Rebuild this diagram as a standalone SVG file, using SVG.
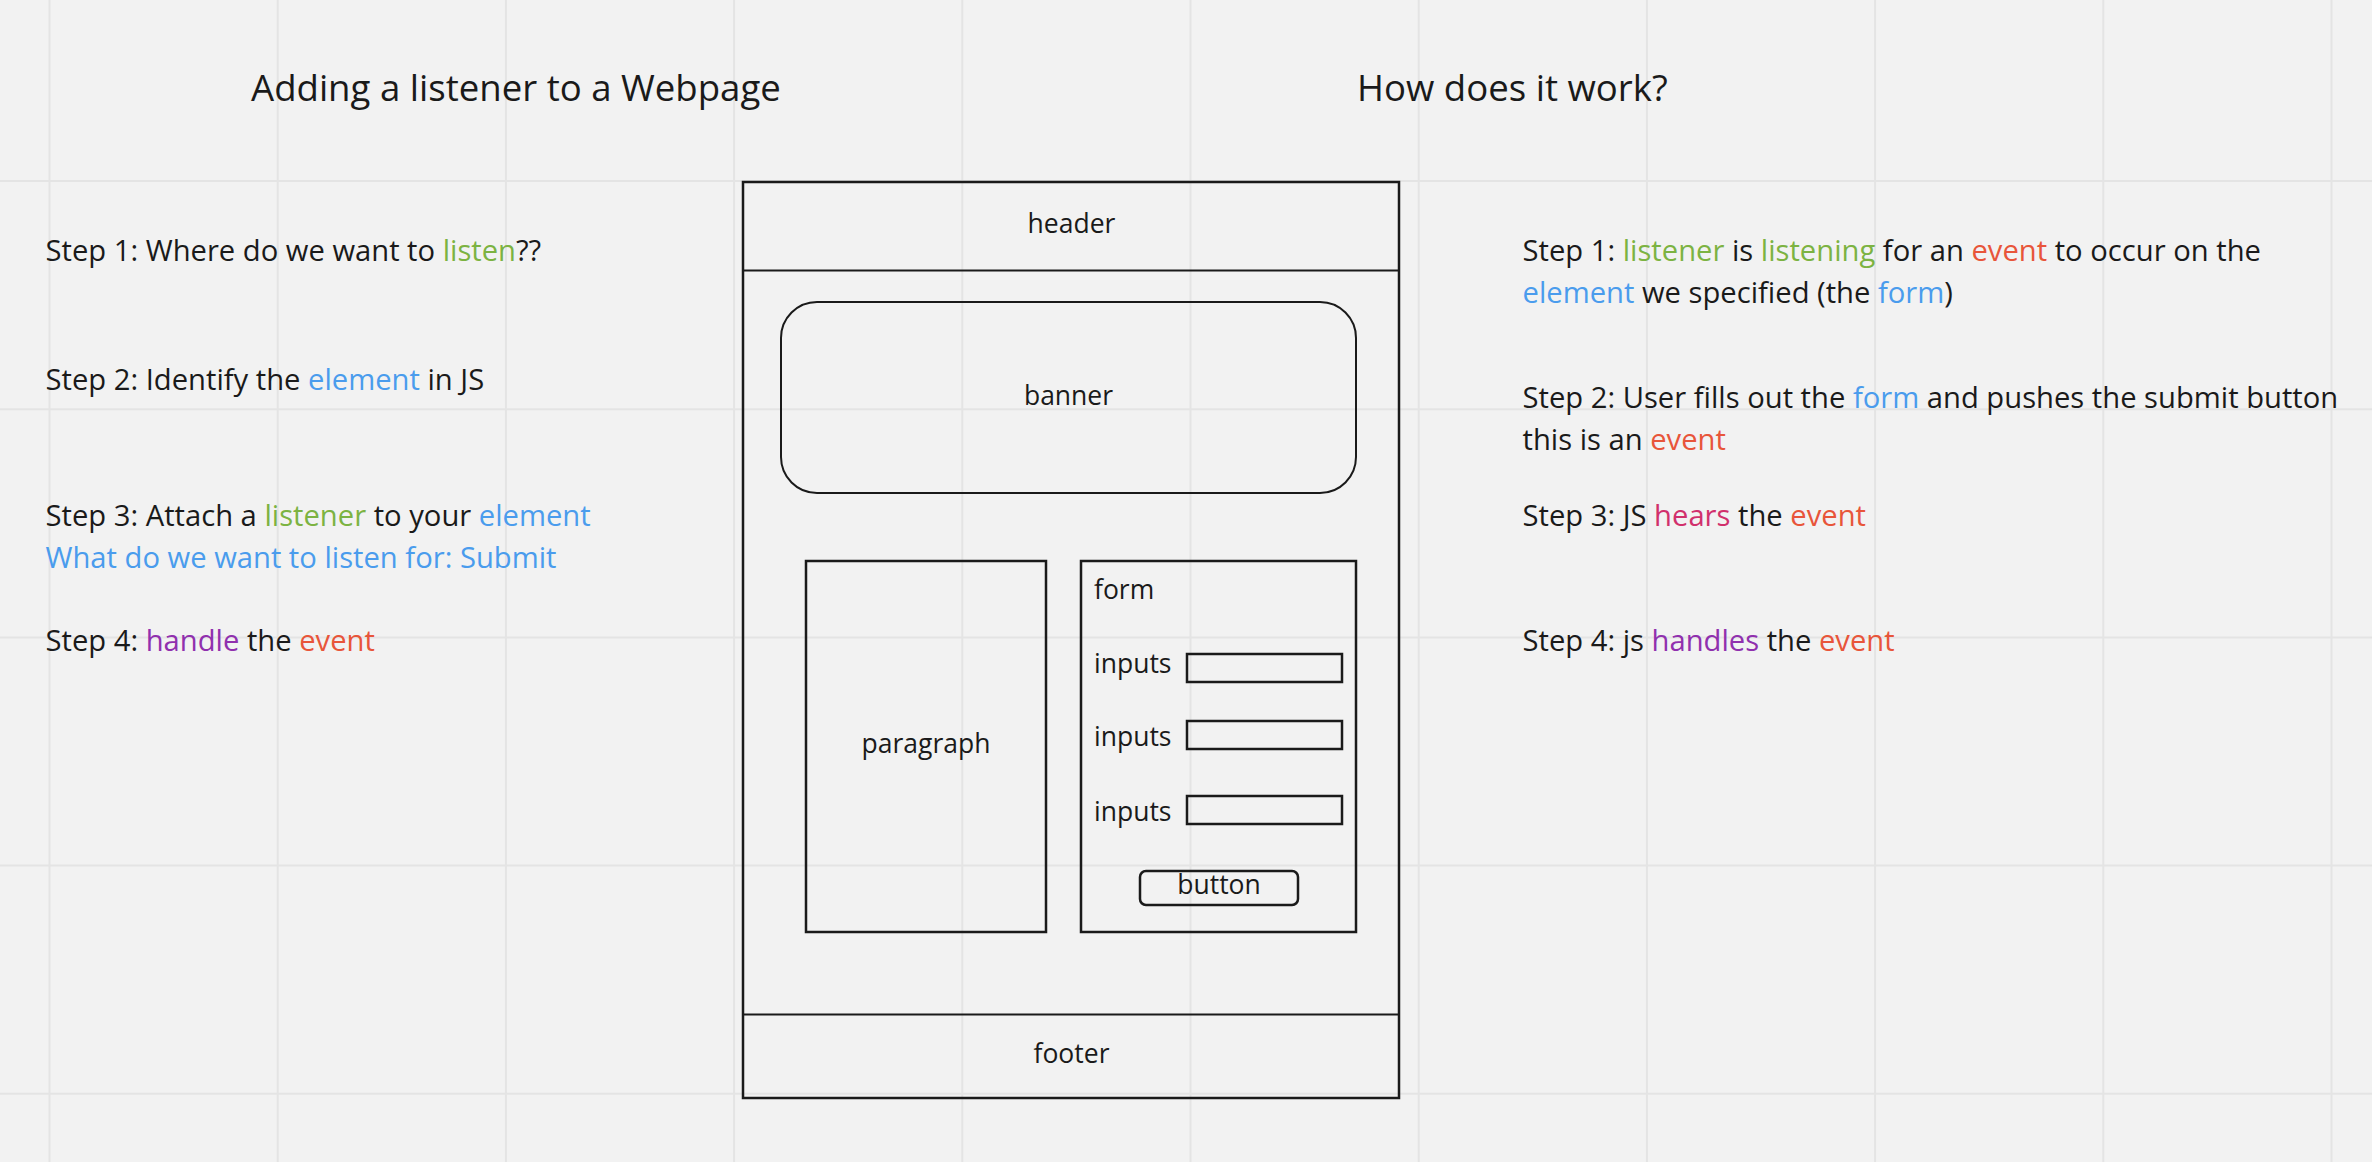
<svg xmlns="http://www.w3.org/2000/svg" width="2372" height="1162" viewBox="0 0 2372 1162">
  <style>
    .bg { fill: #f2f2f2; }
    .grid line { stroke: #e4e4e4; stroke-width: 2; }
    .title { font-family: "Open Sans", "Liberation Sans", sans-serif; font-size: 36.6px; fill: #1a1a1a; }
    .step { font-family: "Open Sans", "Liberation Sans", sans-serif; font-size: 29.2px; fill: #1a1a1a; }
    .lbl { font-family: "Open Sans", "Liberation Sans", sans-serif; font-size: 26.5px; fill: #1a1a1a; }
    .mid { text-anchor: middle; }
    .box { fill: none; stroke: #1a1a1a; stroke-width: 2.5; }
    .thin { fill: none; stroke: #1a1a1a; stroke-width: 2; }
    .g { fill: #7cb342; }
    .b { fill: #4a9ced; }
    .r { fill: #e8553a; }
    .p { fill: #9030ae; }
    .k { fill: #d1306c; }
  </style>

  <rect class="bg" x="0" y="0" width="2372" height="1162"/>

  <!-- board grid -->
  <g class="grid">
    <line x1="49.5" y1="0" x2="49.5" y2="1162"/>
    <line x1="277.7" y1="0" x2="277.7" y2="1162"/>
    <line x1="505.9" y1="0" x2="505.9" y2="1162"/>
    <line x1="734.1" y1="0" x2="734.1" y2="1162"/>
    <line x1="962.3" y1="0" x2="962.3" y2="1162"/>
    <line x1="1190.5" y1="0" x2="1190.5" y2="1162"/>
    <line x1="1418.7" y1="0" x2="1418.7" y2="1162"/>
    <line x1="1646.9" y1="0" x2="1646.9" y2="1162"/>
    <line x1="1875.1" y1="0" x2="1875.1" y2="1162"/>
    <line x1="2103.3" y1="0" x2="2103.3" y2="1162"/>
    <line x1="2331.5" y1="0" x2="2331.5" y2="1162"/>
    <line x1="0" y1="181" x2="2372" y2="181"/>
    <line x1="0" y1="409.2" x2="2372" y2="409.2"/>
    <line x1="0" y1="637.4" x2="2372" y2="637.4"/>
    <line x1="0" y1="865.6" x2="2372" y2="865.6"/>
    <line x1="0" y1="1093.8" x2="2372" y2="1093.8"/>
  </g>

  <!-- headings -->
  <g id="title-left"><text class="title" x="251" y="101">Adding a listener to a Webpage</text></g>
  <g id="title-right"><text class="title" x="1357" y="101">How does it work?</text></g>

  <!-- left column steps -->
  <g id="left-steps">
    <text class="step" x="45.5" y="261">Step 1: Where do we want to <tspan class="g">listen</tspan>??</text>
    <text class="step" x="45.5" y="390">Step 2: Identify the <tspan class="b">element</tspan> in JS</text>
    <text class="step" x="45.5" y="526">Step 3: Attach a <tspan class="g">listener</tspan> to your <tspan class="b">element</tspan></text>
    <text class="step b" x="45.5" y="567.5">What do we want to listen for: Submit</text>
    <text class="step" x="45.5" y="651">Step 4: <tspan class="p">handle</tspan> the <tspan class="r">event</tspan></text>
  </g>

  <!-- right column steps -->
  <g id="right-steps">
    <text class="step" x="1522.5" y="261">Step 1: <tspan class="g">listener</tspan> is <tspan class="g">listening</tspan> for an <tspan class="r">event</tspan> to occur on the</text>
    <text class="step" x="1522.5" y="303"><tspan class="b">element</tspan> we specified (the <tspan class="b">form</tspan>)</text>
    <text class="step" x="1522.5" y="408">Step 2: User fills out the <tspan class="b">form</tspan> and pushes the submit button</text>
    <text class="step" x="1522.5" y="450">this is an <tspan class="r">event</tspan></text>
    <text class="step" x="1522.5" y="526">Step 3: JS <tspan class="k">hears</tspan> the <tspan class="r">event</tspan></text>
    <text class="step" x="1522.5" y="651">Step 4: js <tspan class="p">handles</tspan> the <tspan class="r">event</tspan></text>
  </g>

  <!-- webpage wireframe -->
  <g id="page">
    <rect class="box" x="743" y="182" width="656" height="916"/>
  </g>
  <g id="header">
    <line class="thin" x1="743" y1="270.5" x2="1399" y2="270.5"/>
    <text class="lbl mid" x="1071.5" y="233">header</text>
  </g>
  <g id="banner">
    <rect class="thin" x="781" y="302" width="575" height="191" rx="36" ry="36"/>
    <text class="lbl mid" x="1068.5" y="405">banner</text>
  </g>
  <g id="paragraph">
    <rect class="box" x="806" y="561" width="240" height="371"/>
    <text class="lbl mid" x="926" y="753">paragraph</text>
  </g>
  <g id="form">
    <rect class="box" x="1081" y="561" width="275" height="371"/>
    <text class="lbl" x="1094" y="599">form</text>
  </g>
  <g id="input-1">
    <text class="lbl" x="1094" y="673">inputs</text>
    <rect class="box" x="1187" y="654" width="155" height="28"/>
  </g>
  <g id="input-2">
    <text class="lbl" x="1094" y="746">inputs</text>
    <rect class="box" x="1187" y="721" width="155" height="28"/>
  </g>
  <g id="input-3">
    <text class="lbl" x="1094" y="821">inputs</text>
    <rect class="box" x="1187" y="796" width="155" height="28"/>
  </g>
  <g id="button">
    <rect class="box" x="1140" y="871" width="158" height="34" rx="6" ry="6"/>
    <text class="lbl mid" x="1219" y="894">button</text>
  </g>
  <g id="footer">
    <line class="thin" x1="743" y1="1014.5" x2="1399" y2="1014.5"/>
    <text class="lbl mid" x="1071.5" y="1063">footer</text>
  </g>

  <!-- no connectors in this layout -->
  <g id="connectors"/>
</svg>
